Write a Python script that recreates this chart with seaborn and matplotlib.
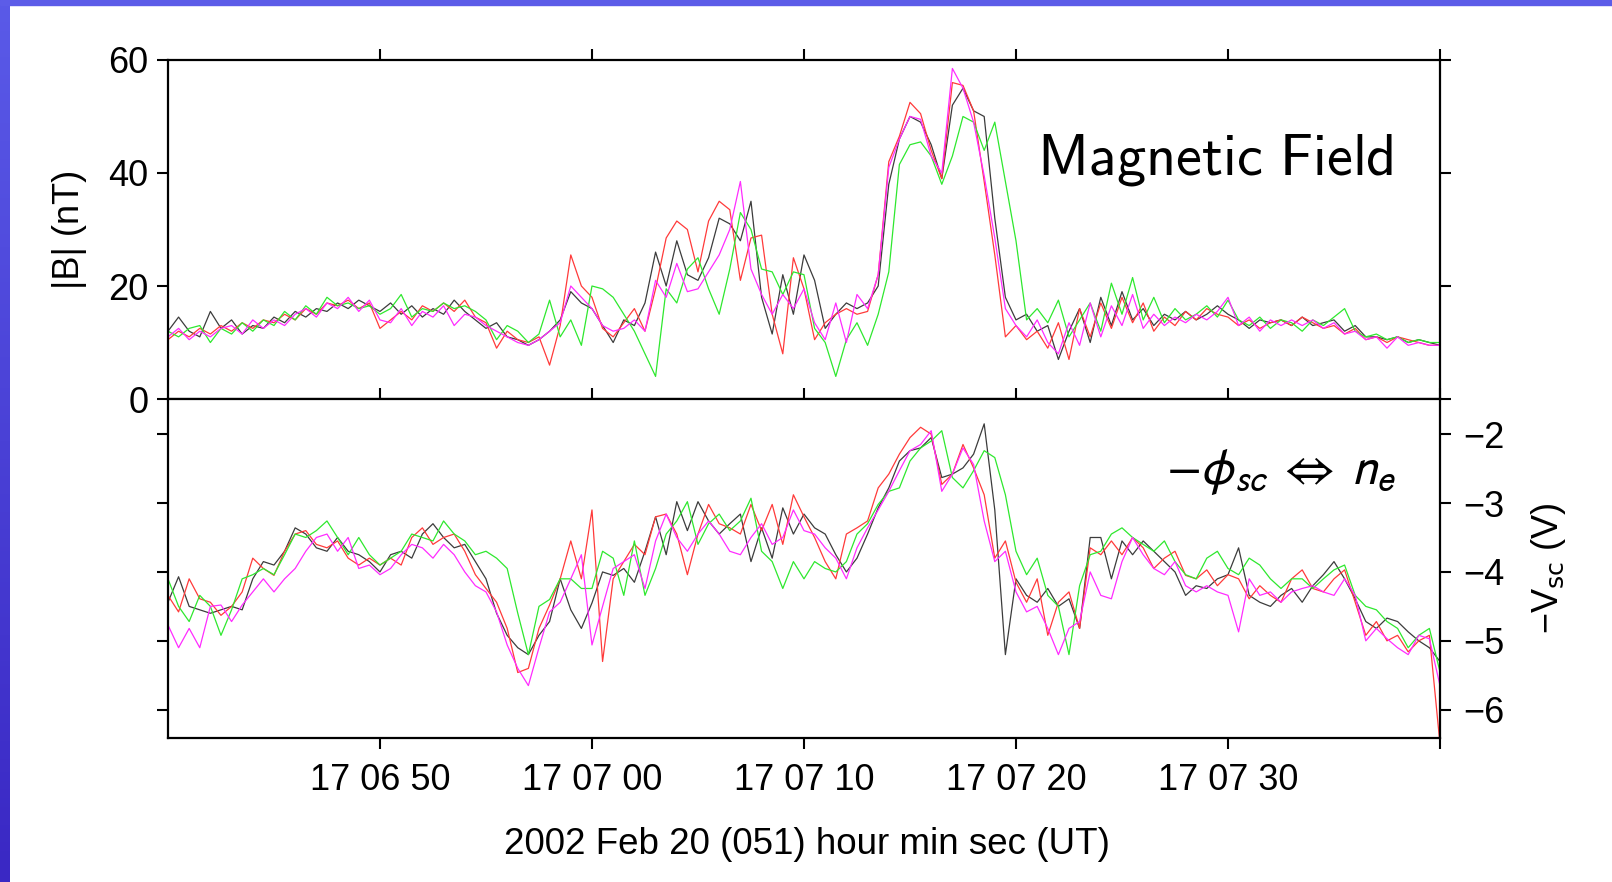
import numpy as np
import pandas as pd
import seaborn as sns
import matplotlib.pyplot as plt
from matplotlib.patches import Rectangle
from matplotlib.colors import LinearSegmentedColormap

# time axis: seconds after 17:06:40 UT, 0.5 s samples
t_sec = np.arange(0, 60.5, 0.5)

# |B| (nT) for the four spacecraft
b_black = [12, 14.5, 12, 11, 15.5, 12.5, 14, 11.5, 13, 12.5,
           14.5, 13.5, 15.5, 14.5, 16, 15.5, 17, 16, 17.5, 16.5,
           15.5, 17, 15, 16.5, 14.5, 16, 15, 17.5, 15.5, 14,
           12.5, 13.5, 11, 10.5, 9.5, 10.5, 12, 14, 19, 17,
           16, 13, 10, 14, 13, 17, 26, 20, 28, 22,
           21, 25, 32, 31, 28, 35, 18, 11.5, 22, 15,
           25.5, 21, 12.5, 15, 17, 16, 17, 20, 38, 46,
           50, 49, 45, 39, 52, 55, 51, 50, 32, 18,
           14, 15, 12, 13, 7, 12, 16, 10, 18, 13,
           19, 14, 16, 13, 15, 14, 15.5, 14, 15, 16.5,
           15, 14, 12.5, 14, 13.5, 14, 13, 14.5, 13, 13.5,
           14, 12, 13, 11, 11, 10.5, 11, 10, 10.5, 10,
           9.5]
b_red = [10.5, 12, 11, 12.5, 11.5, 13, 12, 13.5, 12.5, 14,
         13.5, 15, 14, 16, 15, 17, 16.5, 17.5, 16, 17,
         12.5, 14, 15.5, 14, 16.5, 15.5, 17, 15.5, 17.5, 14.5,
         13.5, 9, 12, 10.5, 10, 11, 6, 13, 25.5, 20,
         18, 12.5, 11, 13.5, 16, 12, 19.5, 28.5, 31.5, 30,
         22.5, 31.5, 35, 33.5, 21, 28.5, 29, 15, 8, 25,
         19.5, 10.5, 13.5, 15, 16, 15, 15.5, 22, 42, 46.5,
         52.5, 50.5, 44, 39, 56, 55.5, 51, 38.5, 25.5, 11,
         13, 10.5, 12, 9, 13.5, 7, 16, 11, 17, 12.5,
         18, 13.5, 17, 12, 14.5, 13, 15.5, 14, 16, 15,
         14.5, 13, 14, 12.5, 13.5, 14, 13, 14.5, 13.5, 12.5,
         13, 11.5, 12.5, 10.5, 11, 10, 11, 10.5, 10, 9.5,
         9.5]
b_green = [12, 11, 12.5, 13, 10, 12.5, 11.5, 13.5, 12, 14,
           13, 15.5, 14, 16.5, 15, 18, 16.5, 17, 16, 16.5,
           15, 16, 18.5, 14.5, 16, 15.5, 17, 16, 16.5, 15.5,
           14, 10.5, 13, 12, 10, 11.5, 17.5, 11, 14, 9.5,
           20, 19.5, 18, 15, 12, 8, 4, 19.5, 17, 23,
           25, 19.5, 15, 23, 33, 30, 23, 22.5, 18.5, 22.5,
           22, 12.5, 10, 4, 10.5, 13.5, 9.5, 15, 22.5, 41.5,
           45, 45.5, 43, 38, 43, 50, 49, 44, 49, 38.5,
           28, 14, 16, 13.5, 17.5, 11, 14, 17, 12, 20.5,
           15, 21.5, 14, 18, 13.5, 16, 14, 15, 16.5, 14.5,
           17.5, 14, 13, 14.5, 12.5, 14, 13.5, 12, 14, 13,
           14.5, 16, 12, 11, 11.5, 10.5, 11, 10, 10.5, 10,
           10]
b_magenta = [11, 12.5, 10.5, 12, 11, 12.5, 13, 11.5, 14, 12.5,
             14, 13, 15, 16, 14.5, 17, 16, 18, 15.5, 17.5,
             14, 13.5, 16, 13, 15.5, 14.5, 16.5, 13, 15, 14.5,
             13, 12, 11, 10, 9.5, 10.5, 12, 13.5, 20, 18,
             16, 13, 12, 12.5, 14, 12, 21, 18, 24, 19,
             19.5, 22.5, 25.5, 30, 38.5, 23, 18.5, 15, 18.5, 16,
             19.5, 13.5, 10.5, 17, 10, 18.5, 16, 22, 41, 46,
             50, 49.5, 43, 40, 58.5, 55, 49, 39.5, 28.5, 16,
             13, 11, 14, 10, 8, 13.5, 9.5, 17, 11, 16.5,
             13, 18.5, 12.5, 15, 13, 14.5, 13.5, 15, 14, 15.5,
             18, 13, 14.5, 12, 14, 13, 14, 13, 14, 12.5,
             13.5, 11.5, 12, 10.5, 11, 9, 11, 9.5, 10, 9.5,
             9.5]

# -V_sc (V) for the four spacecraft
v_black = [-4.44, -4.07, -4.5, -4.55, -4.6, -4.55, -4.5, -4.55, -4.1, -3.85,
           -3.9, -3.7, -3.36, -3.45, -3.65, -3.7, -3.5, -3.7, -3.75, -3.85,
           -4.0, -3.75, -3.7, -3.8, -3.45, -3.3, -3.5, -3.65, -3.6, -3.85,
           -4.1, -4.6, -4.92, -5.1, -5.2, -4.92, -4.72, -4.1, -4.55, -4.82,
           -4.45, -4.0, -4.05, -3.95, -4.15, -3.7, -3.2, -3.75, -2.98, -3.4,
           -2.98, -3.26, -3.45, -3.3, -3.16, -3.85, -3.36, -3.8, -3.07, -3.45,
           -3.16, -3.36, -3.45, -3.75, -4.0, -3.8, -3.45, -3.07, -2.78, -2.39,
           -2.24, -2.2, -2.05, -2.63, -2.58, -2.49, -2.29, -1.85, -3.1, -5.2,
           -4.1, -4.34, -4.44, -4.24, -4.5, -4.39, -4.82, -3.5, -3.5, -4.1,
           -3.55, -3.75, -3.55, -3.7, -3.85, -4.0, -4.34, -4.2, -4.24, -4.1,
           -4.04, -3.65, -4.34, -4.44, -4.5, -4.34, -4.24, -4.44, -4.2, -4.04,
           -3.85, -4.1, -4.39, -4.72, -4.82, -4.67, -4.72, -4.87, -5.0, -5.1,
           -5.3]
v_red = [-4.34, -4.58, -4.1, -4.39, -4.44, -4.63, -4.5, -4.29, -3.8, -3.95,
         -4.05, -3.7, -3.45, -3.4, -3.6, -3.65, -3.55, -3.8, -3.9, -3.8,
         -3.9, -3.8, -3.9, -3.5, -3.36, -3.6, -3.5, -3.45, -3.7, -4.04,
         -4.24, -4.44, -4.82, -5.46, -5.4, -4.82, -4.48, -4.1, -3.55, -4.1,
         -3.1, -5.3, -4.1, -3.85, -3.6, -3.75, -3.2, -3.16, -3.45, -4.04,
         -3.45, -3.02, -3.3, -3.36, -3.45, -3.02, -3.4, -3.02, -3.6, -2.88,
         -3.2, -3.5, -3.85, -4.1, -3.45, -3.36, -3.26, -2.78, -2.58, -2.29,
         -2.05, -1.9, -2.0, -2.73, -2.58, -2.15, -2.49, -2.88, -3.8, -3.55,
         -4.15, -4.44, -4.1, -4.92, -4.44, -4.29, -4.82, -3.65, -3.75, -3.55,
         -3.75, -3.5, -3.65, -3.95, -3.8, -3.7, -4.05, -4.1, -3.97, -4.2,
         -4.04, -4.1, -4.39, -4.2, -4.34, -4.44, -4.1, -3.97, -4.24, -4.29,
         -4.1, -3.97, -4.44, -4.92, -4.72, -5.0, -4.92, -5.16, -5.0, -4.92,
         -6.5]
v_green = [-4.1, -4.5, -4.72, -4.34, -4.5, -4.92, -4.55, -4.1, -4.04, -3.95,
           -4.04, -3.75, -3.45, -3.5, -3.4, -3.26, -3.5, -3.75, -3.5, -3.75,
           -3.9, -3.8, -3.7, -3.45, -3.5, -3.55, -3.26, -3.45, -3.55, -3.75,
           -3.7, -3.8, -3.95, -4.6, -5.2, -4.5, -4.4, -4.1, -4.1, -4.24,
           -4.24, -3.7, -3.8, -4.34, -3.55, -4.34, -3.95, -3.45, -3.26, -2.98,
           -3.6, -3.3, -3.16, -3.4, -3.26, -2.93, -3.7, -3.85, -4.24, -3.85,
           -4.1, -3.85, -3.95, -4.0, -3.85, -3.45, -3.3, -3.02, -2.83, -2.78,
           -2.39, -2.2, -2.1, -1.95, -2.63, -2.78, -2.53, -2.24, -2.34, -2.88,
           -3.7, -4.04, -3.8, -4.34, -4.5, -5.2, -4.2, -3.75, -3.7, -3.45,
           -3.36, -3.5, -3.6, -3.7, -3.55, -3.85, -4.04, -4.1, -3.8, -3.7,
           -3.95, -4.04, -3.8, -3.9, -4.1, -4.24, -4.1, -4.1, -4.24, -4.1,
           -3.97, -3.9, -4.34, -4.5, -4.55, -4.72, -4.82, -5.1, -4.92, -4.82,
           -5.45]
v_magenta = [-4.77, -5.1, -4.82, -5.1, -4.5, -4.48, -4.72, -4.48, -4.29, -4.1,
             -4.29, -4.1, -3.95, -3.7, -3.5, -3.45, -3.7, -3.5, -3.95, -3.9,
             -4.04, -3.95, -3.75, -3.6, -3.65, -3.8, -3.6, -3.75, -4.0, -4.2,
             -4.29, -4.58, -5.06, -5.4, -5.65, -5.1, -4.58, -4.44, -4.1, -3.75,
             -5.06, -4.5, -3.95, -3.85, -3.75, -4.24, -3.55, -3.16, -3.5, -3.7,
             -3.45, -3.26, -3.45, -3.7, -3.75, -3.5, -3.3, -3.6, -3.5, -3.1,
             -3.4, -3.45, -3.65, -3.8, -4.1, -3.65, -3.36, -3.1, -2.83, -2.53,
             -2.24, -2.15, -1.95, -2.83, -2.58, -2.2, -2.44, -3.26, -3.85, -3.7,
             -4.29, -4.58, -4.5, -4.82, -5.2, -4.82, -4.72, -4.0, -4.34, -4.39,
             -3.85, -3.5, -3.75, -3.95, -4.04, -3.85, -4.2, -4.29, -4.2, -4.29,
             -4.34, -4.87, -4.1, -4.34, -4.29, -4.44, -4.29, -4.24, -4.2, -4.29,
             -4.34, -4.1, -4.34, -5.0, -4.82, -4.97, -5.1, -5.2, -4.92, -4.97,
             -5.65]

sc_names = ["black", "red", "green", "magenta"]
sc_colors = {"black": "#3c3c3c", "red": "#ff3a3a", "green": "#2ee82e", "magenta": "#ff2cff"}

xtick_pos = [10, 20, 30, 40, 50, 60]
xtick_labels = ["17 06 50", "17 07 00", "17 07 10", "17 07 20", "17 07 30", ""]
b_ticks = [0, 20, 40, 60]
v_ticks = [-2, -3, -4, -5, -6]


def to_long(series):
    return pd.DataFrame({
        "t": np.tile(t_sec, len(series)),
        "val": np.concatenate([np.asarray(s, dtype=float) for s in series]),
        "sc": np.repeat(sc_names, len(t_sec)),
    })


df_b = to_long([b_black, b_red, b_green, b_magenta])
df_v = to_long([v_black, v_red, v_green, v_magenta])

sns.set_theme(style="ticks")
plt.rcParams["font.family"] = ["Liberation Sans", "DejaVu Sans"]
plt.rcParams["text.color"] = "black"
plt.rcParams["axes.labelcolor"] = "black"
plt.rcParams["axes.edgecolor"] = "black"
plt.rcParams["axes.linewidth"] = 1.6

fig = plt.figure(figsize=(16.12, 8.82), dpi=100)
fig.patch.set_facecolor("white")

# blue frame of the slide
fig.patches.append(Rectangle((0, 1 - 5 / 882), 1, 5 / 882, transform=fig.transFigure,
                             color="#5c5ce8", zorder=0))
bar = fig.add_axes([0, 0, 10 / 1612, 1])
bar.imshow(np.linspace(0, 1, 200).reshape(-1, 1), aspect="auto",
           cmap=LinearSegmentedColormap.from_list("bl", ["#5a5ae8", "#3a28c4"]))
bar.set_axis_off()

ax1 = fig.add_axes([0.1042, 0.5476, 0.7891, 0.3844])
ax2 = fig.add_axes([0.1042, 0.1633, 0.7891, 0.3843])

sns.lineplot(data=df_b, x="t", y="val", hue="sc", hue_order=sc_names, palette=sc_colors,
             estimator=None, sort=False, linewidth=0.9, legend=False, ax=ax1)
sns.lineplot(data=df_v, x="t", y="val", hue="sc", hue_order=sc_names, palette=sc_colors,
             estimator=None, sort=False, linewidth=0.9, legend=False, ax=ax2)

tick_kw = dict(length=8, width=1.5, color="black", labelsize=26, labelcolor="black")

# top panel
ax1.set_xlim(0, 60)
ax1.set_ylim(0, 60)
ax1.set_xticks(xtick_pos)
ax1.set_yticks(b_ticks)
ax1.tick_params(axis="x", top=True, bottom=False, labelbottom=False, labeltop=False,
                direction="out", **tick_kw)
ax1.tick_params(axis="y", left=True, right=True, labelleft=True, labelright=False,
                direction="out", pad=6, **tick_kw)
ax1.set_xlabel("")
ax1.set_ylabel("|B| (nT)", fontsize=26)
ax1.yaxis.set_label_coords(-0.064, 0.5)
ax1.text(0.963, 0.661, r"$\mathsf{Magnetic\ Field}$", transform=ax1.transAxes,
         ha="right", va="baseline", fontsize=42, math_fontfamily="cm")

# bottom panel
ax2.set_xlim(0, 60)
ax2.set_ylim(-6.41, -1.49)
ax2.set_xticks(xtick_pos)
ax2.set_xticklabels(xtick_labels)
ax2.set_yticks(v_ticks)
ax2.tick_params(axis="x", top=True, bottom=True, labeltop=False, labelbottom=True,
                direction="out", pad=10, **tick_kw)
ax2.tick_params(axis="y", left=True, right=True, labelleft=False, labelright=True,
                direction="out", pad=9, **tick_kw)
ax2.set_xlabel("2002 Feb 20 (051) hour min sec (UT)", fontsize=26.5)
ax2.xaxis.set_label_coords(0.502, -0.262)
ax2.yaxis.set_label_position("right")
ax2.set_ylabel(r"−V$_{\rm sc}$ (V)", fontsize=26, rotation=90)
ax2.yaxis.set_label_coords(1.07, 0.5)
ax2.text(0.965, 0.749, r"$-\phi_{sc}\;\Leftrightarrow\;n_e$", transform=ax2.transAxes,
         ha="right", va="baseline", fontsize=37, math_fontfamily="stixsans")

for ax in (ax1, ax2):
    ax.set_facecolor("white")
    for sp in ax.spines.values():
        sp.set_visible(True)
        sp.set_linewidth(1.6)
        sp.set_color("black")

fig.savefig("out.png", dpi=100, facecolor="white")
